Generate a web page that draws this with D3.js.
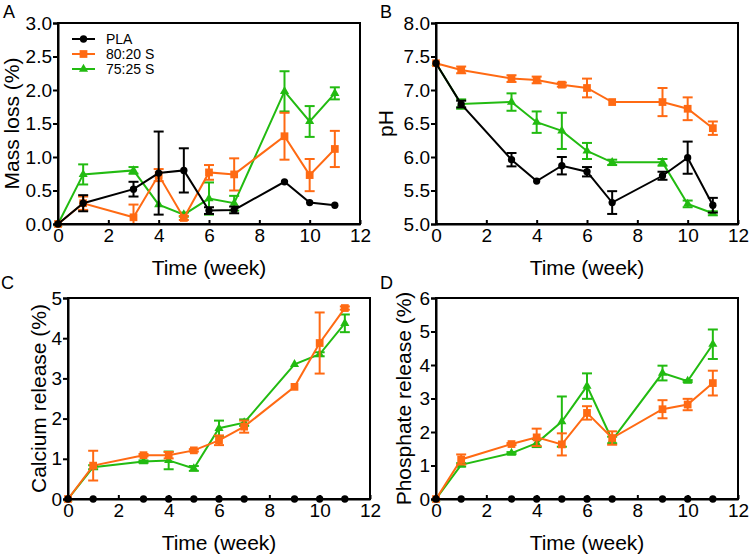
<!DOCTYPE html>
<html><head><meta charset="utf-8">
<script src="https://cdn.jsdelivr.net/npm/d3@7"></script>
<style>body{margin:0;background:#fff}svg{display:block;font-family:"Liberation Sans",Arial,sans-serif}</style>
</head><body><svg id="c" width="749" height="558"></svg>
<script>
const weeks = [0,1,3,4,5,6,7,9,10,11];
const seriesNames = ["PLA","80:20 S","75:25 S"];
const colors = {"PLA":"#000000","80:20 S":"#ff6a13","75:25 S":"#22bb11"};

const massPLA = [0,0.31,0.52,0.76,0.80,0.20,0.21,0.63,0.32,0.28];
const massPLAErr = [0,0.12,0.11,0.62,0.33,0.05,0.05,0,0,0];
const mass8020 = [0,0.31,0.10,0.73,0.09,0.77,0.74,1.31,0.73,1.12];
const mass8020Err = [0,0.10,0.19,0.09,0.03,0.11,0.24,0.35,0.24,0.27];
const mass7525 = [0,0.74,0.80,0.29,0.14,0.38,0.31,1.98,1.53,1.95];
const mass7525Err = [0,0.15,0.05,0,0.03,0.24,0.11,0.30,0.23,0.09];

const phPLA = [7.40,6.79,5.96,5.64,5.87,5.78,5.32,5.72,5.99,5.28];
const phPLAErr = [0,0.05,0.10,0,0.13,0.07,0.17,0.06,0.24,0.11];
const ph8020 = [7.40,7.30,7.17,7.15,7.08,7.03,6.82,6.82,6.72,6.43];
const ph8020Err = [0,0.05,0.05,0.05,0.03,0.14,0,0.21,0.17,0.10];
const ph7525 = [7.40,6.79,6.82,6.52,6.39,6.09,5.92,5.92,5.30,5.16];
const ph7525Err = [0,0.07,0.13,0.16,0.27,0.12,0.04,0.05,0.05,0.03];

const caPLA = [0,0,0,0,0,0,0,0,0,0];
const caPLAErr = [0,0,0,0,0,0,0,0,0,0];
const ca8020 = [0,0.83,1.09,1.09,1.21,1.46,1.80,2.79,3.88,4.75];
const ca8020Err = [0,0.37,0.03,0.08,0.03,0.12,0.15,0,0.76,0.04];
const ca7525 = [0,0.79,0.93,0.96,0.76,1.76,1.90,3.35,3.60,4.37];
const ca7525Err = [0,0.05,0.03,0.22,0.06,0.19,0.08,0,0.05,0.22];

const poPLA = [0,0,0,0,0,0,0,0,0,0];
const poPLAErr = [0,0,0,0,0,0,0,0,0,0];
const po8020 = [0,1.18,1.64,1.84,1.63,2.57,1.82,2.68,2.82,3.46];
const po8020Err = [0,0.15,0.03,0.26,0.33,0.20,0.20,0.27,0.17,0.37];
const po7525 = [0,1.02,1.37,1.67,2.31,3.37,1.76,3.76,3.52,4.62];
const po7525Err = [0,0.05,0.03,0.12,0.75,0.38,0.10,0.22,0.03,0.44];

const xTicks = [0,2,4,6,8,10,12];
const massTicks = [0,0.5,1,1.5,2,2.5,3];
const phTicks = [5,5.5,6,6.5,7,7.5,8];
const caTicks = [0,1,2,3,4,5];
const poTicks = [0,1,2,3,4,5,6];

const svg = d3.select("#c");

const panels = [
  {letter:"A", L:58, R:360, T:23, B:224, yDom:[0,3], yTicks:massTicks, fmt:d3.format(".1f"), title:"Mass loss (%)", titleX:19, letterX:3, letterY:18,
   data:{"PLA":[massPLA,massPLAErr],"80:20 S":[mass8020,mass8020Err],"75:25 S":[mass7525,mass7525Err]}, legend:true},
  {letter:"B", L:436, R:738, T:23, B:224, yDom:[5,8], yTicks:phTicks, fmt:d3.format(".1f"), title:"pH", titleX:393, letterX:380, letterY:18,
   data:{"PLA":[phPLA,phPLAErr],"80:20 S":[ph8020,ph8020Err],"75:25 S":[ph7525,ph7525Err]}},
  {letter:"C", L:68, R:370, T:298, B:499, yDom:[0,5], yTicks:caTicks, fmt:d3.format("d"), title:"Calcium release (%)", titleX:46, letterX:1, letterY:289,
   data:{"PLA":[caPLA,caPLAErr],"80:20 S":[ca8020,ca8020Err],"75:25 S":[ca7525,ca7525Err]}},
  {letter:"D", L:436, R:738, T:298, B:499, yDom:[0,6], yTicks:poTicks, fmt:d3.format("d"), title:"Phosphate release (%)", titleX:411, letterX:380, letterY:289,
   data:{"PLA":[poPLA,poPLAErr],"80:20 S":[po8020,po8020Err],"75:25 S":[po7525,po7525Err]}}
];

const symbols = {"PLA":d3.symbol().type(d3.symbolCircle).size(42),
                 "80:20 S":d3.symbol().type(d3.symbolSquare).size(60),
                 "75:25 S":d3.symbol().type(d3.symbolTriangle).size(36)};

panels.forEach(p => {
  const x = d3.scaleLinear().domain([0,12]).range([p.L,p.R]);
  const y = d3.scaleLinear().domain(p.yDom).range([p.B,p.T]);
  const g = svg.append("g");

  // series (draw order: green, orange, black)
  ["75:25 S","80:20 S","PLA"].forEach(name => {
    const [vals, errs] = p.data[name];
    const col = colors[name];
    const pts = weeks.map((w,i)=>({w, v:vals[i], e:errs[i]}));
    const sg = g.append("g");
    sg.append("path").datum(pts)
      .attr("d", d3.line().x(d=>x(d.w)).y(d=>y(d.v)))
      .attr("fill","none").attr("stroke",col).attr("stroke-width",2);
    pts.filter(d=>d.e>0).forEach(d=>{
      const y1 = y(d.v+d.e), y2 = y(Math.max(d.v-d.e, p.yDom[0]));
      sg.append("line").attr("x1",x(d.w)).attr("x2",x(d.w)).attr("y1",y1).attr("y2",y2)
        .attr("stroke",col).attr("stroke-width",2);
      sg.append("line").attr("x1",x(d.w)-5).attr("x2",x(d.w)+5).attr("y1",y1).attr("y2",y1)
        .attr("stroke",col).attr("stroke-width",2);
      if (d.v-d.e > p.yDom[0])
        sg.append("line").attr("x1",x(d.w)-5).attr("x2",x(d.w)+5).attr("y1",y2).attr("y2",y2)
          .attr("stroke",col).attr("stroke-width",2);
    });
    sg.selectAll("path.m").data(pts).join("path").attr("class","m")
      .attr("d", symbols[name]())
      .attr("transform", d=>`translate(${x(d.w)},${y(d.v)})`)
      .attr("fill", col);
  });

  // frame
  g.append("rect").attr("x",p.L).attr("y",p.T).attr("width",p.R-p.L).attr("height",p.B-p.T)
    .attr("fill","none").attr("stroke","#000").attr("stroke-width",2);

  // axes
  const xa = g.append("g").attr("transform",`translate(0,${p.B})`)
    .call(d3.axisBottom(x).tickValues(xTicks).tickSizeInner(-4).tickSizeOuter(0).tickPadding(5));
  const ya = g.append("g").attr("transform",`translate(${p.L},0)`)
    .call(d3.axisLeft(y).tickValues(p.yTicks).tickFormat(p.fmt).tickSize(5).tickPadding(1));
  [xa,ya].forEach(a=>{
    a.select(".domain").attr("stroke","#000").attr("stroke-width",2);
    a.selectAll(".tick line").attr("stroke","#000").attr("stroke-width",2);
    a.selectAll(".tick text").attr("fill","#000").style("font-size","19px").style("font-family","Liberation Sans, Arial, sans-serif");
  });

  // titles
  g.append("text").attr("x",(p.L+p.R)/2).attr("y",p.B+51).attr("text-anchor","middle")
    .style("font-size","21px").text("Time (week)");
  g.append("text").attr("transform",`translate(${p.titleX},${(p.T+p.B)/2}) rotate(-90)`)
    .attr("text-anchor","middle").style("font-size","21px").text(p.title);
  g.append("text").attr("x",p.letterX).attr("y",p.letterY).style("font-size","18px").text(p.letter);

  if (p.legend) {
    const lg = g.append("g");
    seriesNames.forEach((name,i)=>{
      const yy = 39 + i*15;
      lg.append("line").attr("x1",72).attr("x2",95).attr("y1",yy).attr("y2",yy)
        .attr("stroke",colors[name]).attr("stroke-width",2);
      lg.append("path").attr("d",symbols[name]()).attr("transform",`translate(83.5,${yy})`).attr("fill",colors[name]);
      lg.append("text").attr("x",106).attr("y",yy).attr("dy","0.35em").style("font-size","14px").text(name);
    });
  }
});
</script></body></html>
